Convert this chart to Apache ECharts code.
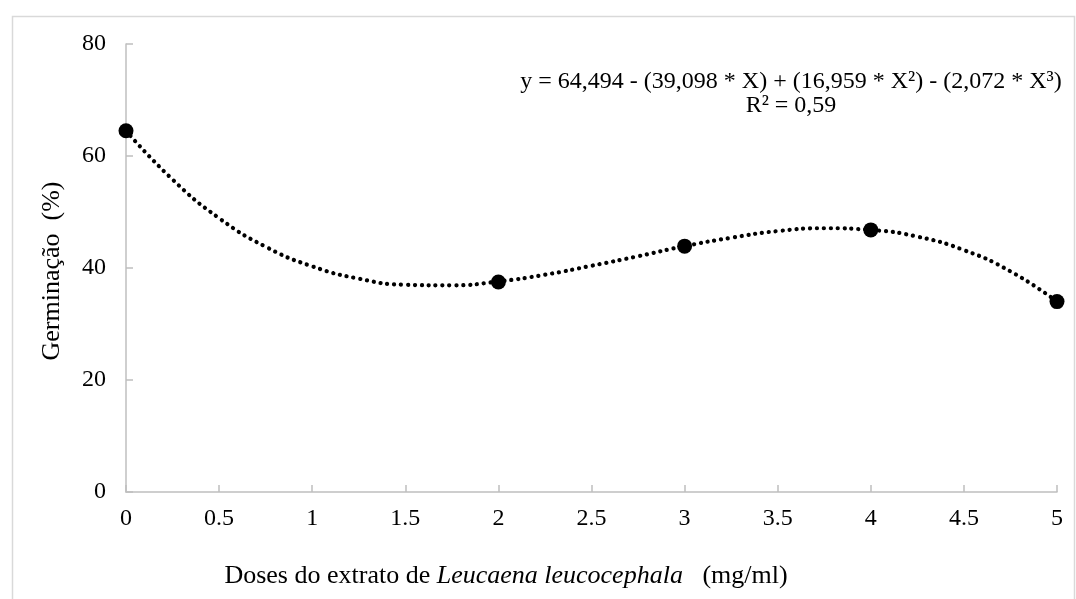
<!DOCTYPE html>
<html>
<head>
<meta charset="utf-8">
<script src="https://cdn.jsdelivr.net/npm/echarts@6/dist/echarts.min.js"></script>
<style>
  html, body { margin: 0; padding: 0; background: #fff; }
  #chart { width: 1076px; height: 599px; }
</style>
</head>
<body>
<div id="chart"></div>
<script>
// Observed germination at each extract dose
const doses = [0, 2, 3, 4, 5];
const germination = [64.5, 37.5, 43.9, 46.8, 34.0];

// Fitted cubic trend, sampled along the dose range
const trendDoses = [0, 0.25, 0.5, 0.75, 1, 1.25, 1.5, 1.75, 2, 2.25, 2.5, 2.75, 3, 3.25, 3.5, 3.75, 4, 4.25, 4.5, 4.75, 5];
const trendValues = [64.5, 55.8, 48.9, 43.8, 40.3, 38.1, 37.0, 36.9, 37.6, 38.8, 40.4, 42.1, 43.9, 45.4, 46.6, 47.1, 46.8, 45.6, 43.2, 39.4, 34.0];

const xTicks = ['0', '0.5', '1', '1.5', '2', '2.5', '3', '3.5', '4', '4.5', '5'];
const yTicks = [0, 20, 40, 60, 80];

const equationText = 'y = 64,494 - (39,098 * X) + (16,959 * X²) - (2,072 * X³)';
const r2Text = 'R² = 0,59';

const font = '"Liberation Serif", "Times New Roman", serif';
const axisGrey = '#bfbfbf';

const chart = echarts.init(document.getElementById('chart'), null, { renderer: 'canvas' });

chart.setOption({
  backgroundColor: '#ffffff',
  animation: false,
  grid: { left: 126, right: 19, top: 44, bottom: 107 },
  xAxis: {
    type: 'value',
    min: 0,
    max: 5,
    interval: 0.5,
    axisLine: { lineStyle: { color: axisGrey, width: 1.5 } },
    axisTick: { show: true, inside: true, length: 7, lineStyle: { color: axisGrey, width: 1.5 } },
    splitLine: { show: false },
    axisLabel: {
      margin: 15,
      color: '#000',
      fontFamily: font,
      fontSize: 24,
      formatter: (v) => {
        const i = Math.round(v / 0.5);
        return xTicks[i] !== undefined ? xTicks[i] : '';
      }
    }
  },
  yAxis: {
    type: 'value',
    min: yTicks[0],
    max: yTicks[yTicks.length - 1],
    interval: 20,
    axisLine: { show: true, lineStyle: { color: axisGrey, width: 1.5 } },
    axisTick: { show: true, inside: true, length: 7, lineStyle: { color: axisGrey, width: 1.5 } },
    splitLine: { show: false },
    axisLabel: { margin: 20, color: '#000', fontFamily: font, fontSize: 24 }
  },
  series: [
    {
      name: 'trend',
      type: 'line',
      data: trendDoses.map((d, i) => [d, trendValues[i]]),
      smooth: 0.5,
      showSymbol: false,
      symbol: 'none',
      lineStyle: { color: '#000', width: 4.2, type: [0.1, 6.8], cap: 'round' },
      z: 2
    },
    {
      name: 'Germinação',
      type: 'scatter',
      data: doses.map((d, i) => [d, germination[i]]),
      symbol: 'circle',
      symbolSize: 15,
      itemStyle: { color: '#000', opacity: 1 },
      z: 3
    }
  ],
  graphic: [
    {
      type: 'rect',
      left: 10, top: 14,
      shape: { width: 1062, height: 600 },
      style: { fill: 'none', stroke: '#d9d9d9', lineWidth: 1.5 },
      silent: true
    },
    {
      type: 'text',
      x: 791, y: 82,
      style: { text: equationText, font: '24px ' + font, fill: '#000', textAlign: 'center', textVerticalAlign: 'middle' }
    },
    {
      type: 'text',
      x: 791, y: 106,
      style: { text: r2Text, font: '24px ' + font, fill: '#000', textAlign: 'center', textVerticalAlign: 'middle' }
    },
    {
      type: 'text',
      x: 52, y: 271,
      rotation: Math.PI / 2,
      style: { text: 'Germinação  (%)', font: '26px ' + font, fill: '#000', textAlign: 'center', textVerticalAlign: 'middle' }
    },
    {
      type: 'text',
      x: 506, y: 576,
      style: {
        text: '{n|Doses do extrato de }{i|Leucaena leucocephala}{n|   (mg/ml)}',
        textAlign: 'center',
        textVerticalAlign: 'middle',
        rich: {
          n: { fontFamily: font, fontSize: 26, fill: '#000', color: '#000' },
          i: { fontFamily: font, fontSize: 26, fontStyle: 'italic', fill: '#000', color: '#000' }
        }
      }
    }
  ]
});
</script>
</body>
</html>
